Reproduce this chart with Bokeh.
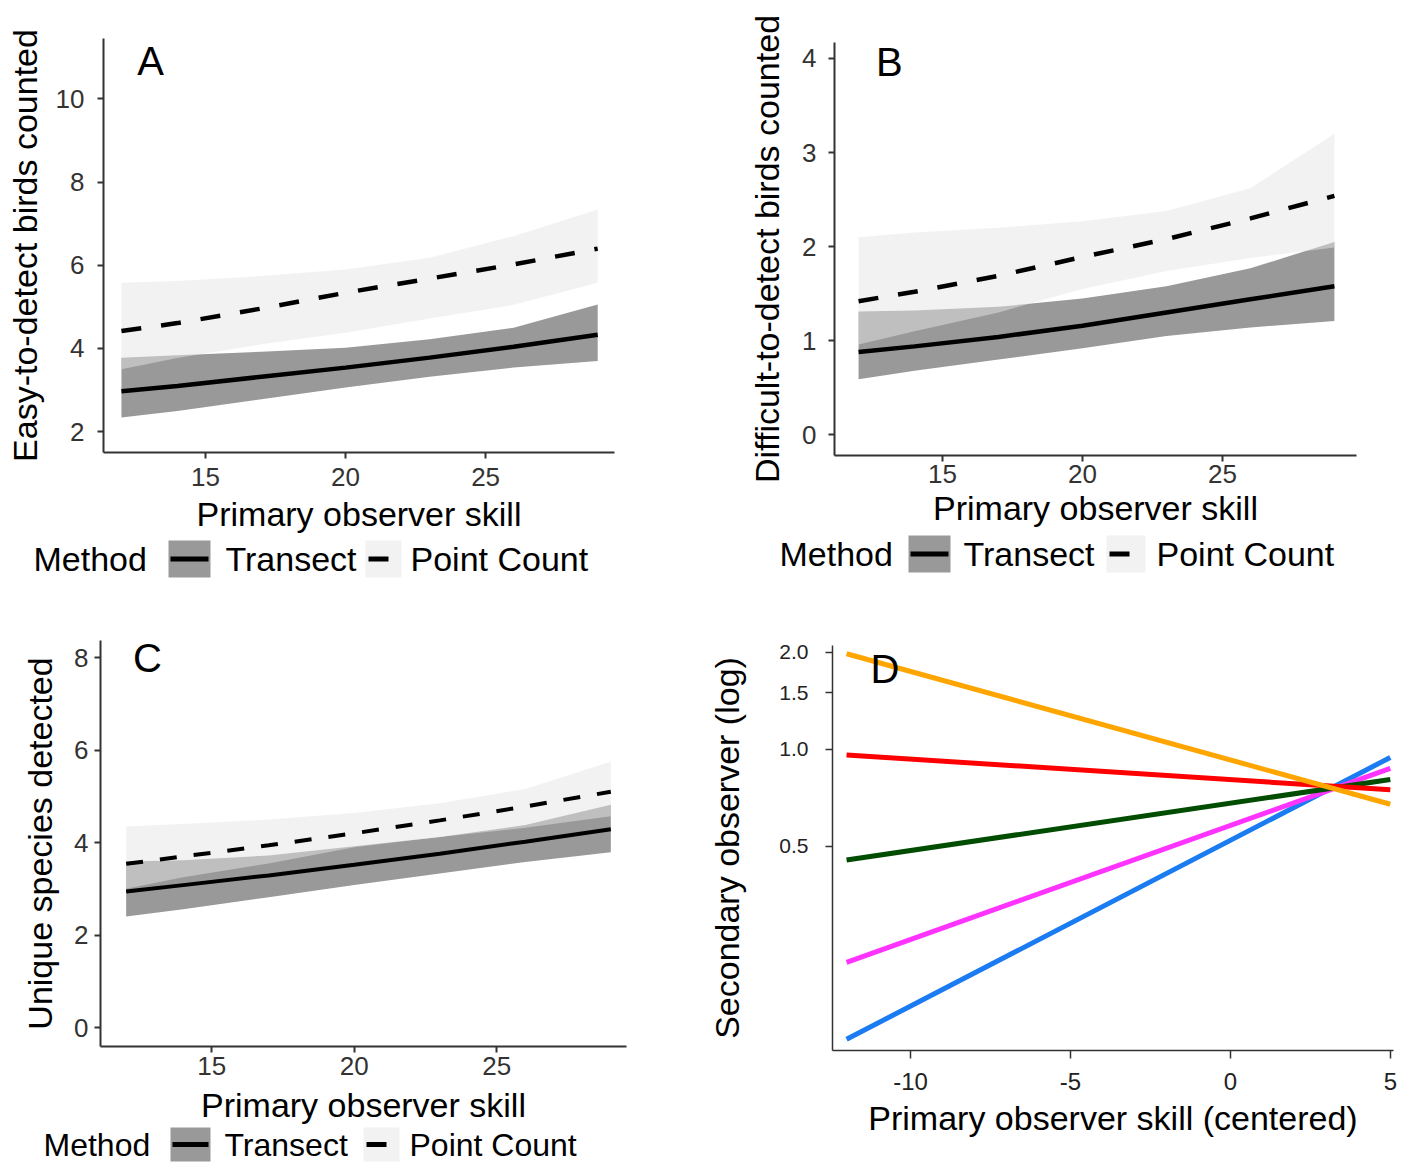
from bokeh.plotting import figure
from bokeh.layouts import row, column
from bokeh.models import Range1d, FixedTicker, Label, PrintfTickFormatter
from bokeh.core.properties import value
from bokeh.embed import file_html
from bokeh.resources import INLINE

FONT = "Liberation Sans"

# ---------------- data ----------------
skill = [12, 14, 17, 20, 23, 26, 29]

# Panel A: easy-to-detect birds counted
a_tr_fit = [2.97, 3.10, 3.32, 3.54, 3.78, 4.04, 4.33]
a_tr_lo = [2.34, 2.50, 2.78, 3.06, 3.32, 3.54, 3.70]
a_tr_hi = [3.78, 3.84, 3.92, 4.02, 4.22, 4.50, 5.06]
a_pc_fit = [4.42, 4.61, 4.96, 5.34, 5.68, 6.02, 6.40]
a_pc_lo = [3.50, 3.77, 4.10, 4.38, 4.72, 5.05, 5.58]
a_pc_hi = [5.58, 5.62, 5.74, 5.90, 6.18, 6.70, 7.34]

# Panel B: difficult-to-detect birds counted
b_tr_fit = [0.88, 0.94, 1.04, 1.16, 1.30, 1.44, 1.58]
b_tr_lo = [0.59, 0.68, 0.80, 0.92, 1.05, 1.14, 1.21]
b_tr_hi = [1.31, 1.32, 1.36, 1.45, 1.58, 1.77, 2.05]
b_pc_fit = [1.42, 1.52, 1.69, 1.89, 2.08, 2.30, 2.54]
b_pc_lo = [0.96, 1.10, 1.30, 1.55, 1.74, 1.88, 1.99]
b_pc_hi = [2.10, 2.15, 2.20, 2.27, 2.38, 2.62, 3.20]

# Panel C: unique species detected
c_tr_fit = [2.94, 3.08, 3.29, 3.52, 3.76, 4.02, 4.29]
c_tr_lo = [2.40, 2.56, 2.82, 3.08, 3.33, 3.58, 3.79]
c_tr_hi = [3.59, 3.62, 3.72, 3.92, 4.12, 4.38, 4.82]
c_pc_fit = [3.54, 3.70, 3.94, 4.20, 4.48, 4.78, 5.10]
c_pc_lo = [3.00, 3.25, 3.55, 3.90, 4.12, 4.32, 4.57]
c_pc_hi = [4.35, 4.40, 4.50, 4.64, 4.85, 5.16, 5.75]

# Panel D: secondary observer (log) vs centered primary skill
d_x = [-12, 5]
d_orange = [1.98, 0.675]
d_red = [0.96, 0.748]
d_green = [0.453, 0.805]
d_magenta = [0.218, 0.872]
d_blue = [0.1257, 0.943]

x_ticks = [15, 20, 25]
a_yticks = [2, 4, 6, 8, 10]
b_yticks = [0, 1, 2, 3, 4]
c_yticks = [0, 2, 4, 6, 8]
d_xticks = [-10, -5, 0, 5]
d_yticks = [0.5, 1.0, 1.5, 2.0]

legend_title = "Method"
legend_labels = ["Transect", "Point Count"]

TR_FILL = "#999999"
PC_FILL = "#E5E5E5"
PC_ALPHA = 0.5
PC_KEY = "#F2F2F2"


def style_axes(p, xs, ys, tick_size="26px", xstand=4, ystand=13, xlab_st=3, ylab_st=11,
               xtick_size=None, line_w=2):
    for ax in (p.xaxis[0], p.yaxis[0]):
        ax.axis_line_color = "#333333"
        ax.axis_line_width = line_w
        ax.major_tick_line_color = "#333333"
        ax.major_tick_line_width = line_w
        ax.major_tick_out = 6
        ax.major_tick_in = 0
        ax.minor_tick_out = 0
        ax.minor_tick_in = 0
        ax.major_label_text_font = FONT
        ax.major_label_text_color = "#333333"
        ax.axis_label_text_font = FONT
        ax.axis_label_text_font_size = "34px"
        ax.axis_label_text_font_style = "normal"
        ax.axis_label_text_color = "black"
    p.xaxis[0].major_label_text_font_size = xtick_size or tick_size
    p.yaxis[0].major_label_text_font_size = tick_size
    p.xaxis[0].major_label_standoff = xstand
    p.yaxis[0].major_label_standoff = ystand
    p.xaxis[0].axis_label_standoff = xlab_st
    p.yaxis[0].axis_label_standoff = ylab_st
    p.xaxis[0].ticker = FixedTicker(ticks=xs)
    p.yaxis[0].ticker = FixedTicker(ticks=ys)
    p.grid.visible = False
    p.outline_line_color = None
    p.background_fill_color = "white"
    p.border_fill_color = "white"


def legend_fig(w, h, start, cy, offs=(135, 177, 192, 332, 368, 377), font_px=34, key_h=37):
    """Horizontal key strip in its own small canvas (pixel units)."""
    lg = figure(width=w, height=h, x_range=Range1d(0, w), y_range=Range1d(0, h),
                output_backend="svg", toolbar_location=None,
                x_axis_location=None, y_axis_location=None,
                min_border=0, min_border_left=0, min_border_right=0,
                min_border_top=0, min_border_bottom=0)
    lg.grid.visible = False
    lg.outline_line_color = None
    lg.background_fill_color = "white"
    lg.border_fill_color = "white"
    b1l, b1r, t1, b2l, b2r, t2 = (start + o for o in offs)
    lg.quad(left=[b1l, b2l], right=[b1r, b2r], bottom=[cy - key_h / 2] * 2,
            top=[cy + key_h / 2] * 2, fill_color=[TR_FILL, PC_KEY], line_color=None)
    lg.segment(x0=[b1l + 2], y0=[cy], x1=[b1r - 2], y1=[cy], line_color="black", line_width=5)
    lg.segment(x0=[b2l + 3], y0=[cy], x1=[b2l + 23], y1=[cy], line_color="black", line_width=5)
    lg.text(x=[start, t1, t2], y=[cy] * 3,
            text=[legend_title] + legend_labels,
            text_font=value(FONT), text_font_size=value(f"{font_px}px"), text_color="black",
            text_align="left", text_baseline="middle")
    return lg


def ribbon_panel(w, h, xr, yr, borders, ylabel, data, letter, letter_xy, yticks,
                 dash, lw=4.5, stands=(4, 13, 3, 11)):
    tr_fit, tr_lo, tr_hi, pc_fit, pc_lo, pc_hi = data
    p = figure(width=w, height=h, x_range=Range1d(*xr), y_range=Range1d(*yr),
               output_backend="svg", toolbar_location=None,
               min_border_left=borders[0], min_border_right=borders[1],
               min_border_top=borders[2], min_border_bottom=borders[3])
    p.varea(x=skill, y1=tr_lo, y2=tr_hi, fill_color=TR_FILL, fill_alpha=1.0)
    p.varea(x=skill, y1=pc_lo, y2=pc_hi, fill_color=PC_FILL, fill_alpha=PC_ALPHA)
    p.line(skill, tr_fit, line_color="black", line_width=lw)
    p.line(skill, pc_fit, line_color="black", line_width=lw, line_dash=dash)
    p.xaxis.axis_label = "Primary observer skill"
    p.yaxis.axis_label = ylabel
    style_axes(p, x_ticks, yticks, xstand=stands[0], ystand=stands[1],
               xlab_st=stands[2], ylab_st=stands[3])
    p.add_layout(Label(x=letter_xy[0], y=letter_xy[1], text=letter, text_font=FONT,
                       text_font_size="40px", text_align="center", text_baseline="middle",
                       text_color="black"))
    return p


# ---- Panel A ----
pA = ribbon_panel(704, 538, (11.36, 29.6), (1.5, 11.45), (103, 90, 38, 86),
                  "Easy-to-detect birds counted",
                  (a_tr_fit, a_tr_lo, a_tr_hi, a_pc_fit, a_pc_lo, a_pc_hi),
                  "A", (13.04, 10.91), a_yticks, "20 20", stands=(9, 13, 6, 9))
lA = legend_fig(704, 52, 33, 31.5)

# ---- Panel B ----
pB = ribbon_panel(697, 534, (11.14, 29.79), (-0.22, 4.17), (130, 45, 42, 79),
                  "Difficult-to-detect birds counted",
                  (b_tr_fit, b_tr_lo, b_tr_hi, b_pc_fit, b_pc_lo, b_pc_hi),
                  "B", (13.1, 3.96), b_yticks, "20 20", stands=(3, 12, 3, 13))
lB = legend_fig(697, 56, 75, 36.5, offs=(129, 171, 184, 327, 366, 377))

# ---- Panel C ----
pC = ribbon_panel(704, 536, (11.1, 29.55), (-0.41, 8.37), (100, 78, 50, 78),
                  "Unique species detected",
                  (c_tr_fit, c_tr_lo, c_tr_hi, c_pc_fit, c_pc_lo, c_pc_hi),
                  "C", (12.75, 8.0), c_yticks, "17 17", lw=4, stands=(4, 6, 8, 12))
lC = legend_fig(704, 36, 43, 18, offs=(127, 167, 181, 320, 356, 366), font_px=32, key_h=34)

# ---- Panel D ----
pD = figure(width=697, height=572, x_range=Range1d(-12.44, 5.1), y_range=Range1d(0.116, 2.10),
            y_axis_type="log", output_backend="svg", toolbar_location=None,
            min_border_left=128, min_border_right=8, min_border_top=55, min_border_bottom=112)
for ys, col in ((d_blue, "#1A7CF0"), (d_magenta, "#FF33FF"), (d_green, "#004C00"),
                (d_red, "#FF0000"), (d_orange, "#FFA500")):
    pD.line(d_x, ys, line_color=col, line_width=5)
pD.xaxis.axis_label = "Primary observer skill (centered)"
pD.yaxis.axis_label = "Secondary observer (log)"
style_axes(pD, d_xticks, d_yticks, tick_size="21px", xtick_size="24px",
           xstand=14, ystand=17, xlab_st=6, ylab_st=30, line_w=1.5)
pD.xaxis.major_tick_out = 8
pD.yaxis.major_tick_out = 7
pD.xaxis.formatter = PrintfTickFormatter(format="%d")
pD.yaxis.formatter = PrintfTickFormatter(format="%.1f")
pD.xaxis.major_label_text_color = "#222222"
pD.yaxis.major_label_text_color = "#222222"
pD.add_layout(Label(x=-10.8, y=1.78, text="D", text_font=FONT, text_font_size="40px",
                    text_align="center", text_baseline="middle", text_color="black"))

layout = column(row(column(pA, row(lA)), column(pB, row(lB))),
                row(column(pC, row(lC)), pD))
open("out.html", "w").write(file_html(layout, INLINE))
